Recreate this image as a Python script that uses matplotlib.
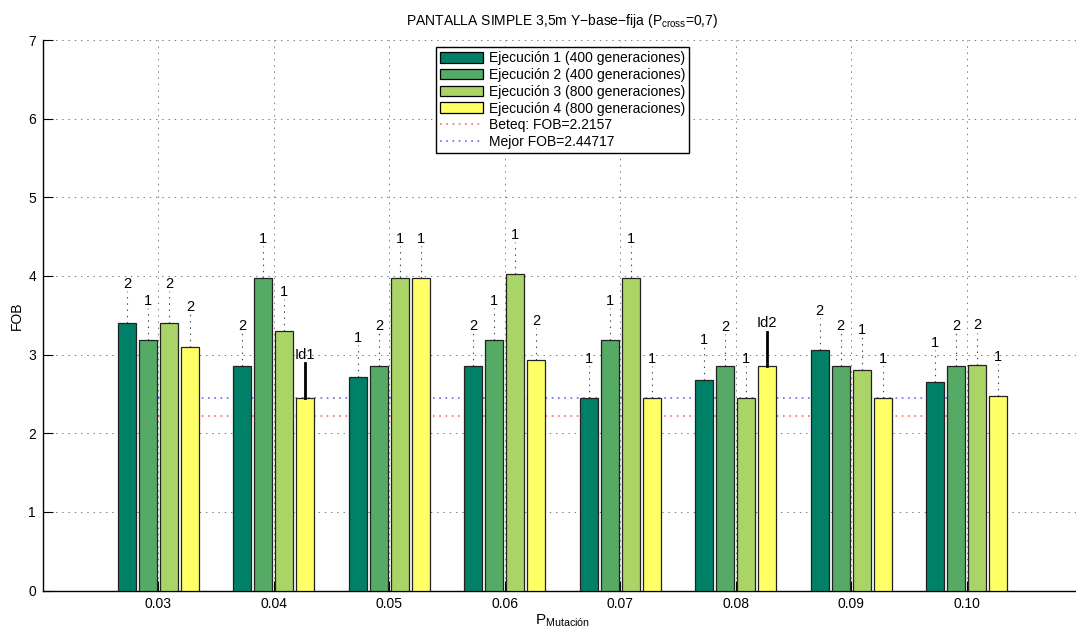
import numpy as np
import matplotlib
matplotlib.use('Agg')
import matplotlib.pyplot as plt
from matplotlib.patches import Patch
from matplotlib.lines import Line2D

plt.rcParams['font.family'] = ['Liberation Sans', 'DejaVu Sans']
plt.rcParams['mathtext.fontset'] = 'custom'
plt.rcParams['mathtext.rm'] = 'Liberation Sans'
plt.rcParams['mathtext.it'] = 'Liberation Sans:italic'
plt.rcParams['lines.scale_dashes'] = False

# data
p_mut = [0.03, 0.04, 0.05, 0.06, 0.07, 0.08, 0.09, 0.10]
tick_labels = ['0.03', '0.04', '0.05', '0.06', '0.07', '0.08', '0.09', '0.10']
run1 = [3.40, 2.86, 2.71, 2.86, 2.447, 2.68, 3.06, 2.65]
run2 = [3.18, 3.97, 2.86, 3.18, 3.18, 2.85, 2.86, 2.86]
run3 = [3.40, 3.30, 3.97, 4.02, 3.97, 2.447, 2.81, 2.87]
run4 = [3.10, 2.447, 3.97, 2.93, 2.447, 2.85, 2.447, 2.47]
lab1 = ['2', '2', '1', '2', '1', '1', '2', '1']
lab2 = ['1', '1', '2', '1', '1', '2', '2', '2']
lab3 = ['2', '1', '1', '1', '1', '1', '1', '2']
lab4 = ['2', None, '1', '2', '1', None, '1', '1']
id_group = [1, 5]      # index of group with an Id mark on run 4
id_text = ['Id1', 'Id2']
beteq = 2.2157
mejor = 2.44717
run_names = ['Ejecución 1 (400 generaciones)', 'Ejecución 2 (400 generaciones)',
             'Ejecución 3 (800 generaciones)', 'Ejecución 4 (800 generaciones)']
# matlab "summer" colormap, 4 steps
colors = [(0, 0.5, 0.4), (1/3, 2/3, 0.4), (2/3, 5/6, 0.4), (1, 1, 0.4)]

runs = [run1, run2, run3, run4]
labs = [lab1, lab2, lab3, lab4]

fig = plt.figure(figsize=(10.76, 6.34), dpi=100)
W, H = 1076, 634
ax = fig.add_axes([43/W, (H-590.5)/H, (1082-43)/W, (590.5-40)/H])

step = 0.001817
width = 0.00156
x = np.array(p_mut)
grid_ls = (0, (1, 3.5))

for i, (vals, c) in enumerate(zip(runs, colors)):
    xs = x + (i - 1.5) * step
    ax.bar(xs, vals, width=width, color=c, edgecolor='#222222', linewidth=0.9, zorder=3)
    for xx, v, t in zip(xs, vals, labs[i]):
        if t is None:
            continue
        ax.plot([xx, xx], [v, v + 0.41], color='#444444', lw=0.8, ls=grid_ls, zorder=2)
        ax.text(xx, v + 0.5, t, ha='center', va='center', fontsize=10.5)

# Id marks on run 4
for g, t in zip(id_group, id_text):
    xx = x[g] + 1.5 * step
    v = run4[g]
    ax.plot([xx, xx], [v, v + 0.44], color='black', lw=2, zorder=4)
    ax.text(xx, v + 0.55, t, ha='center', va='center', fontsize=10.5)

# reference lines
ax.plot([x[0], x[-1]], [beteq, beteq], color='red', alpha=0.6, lw=1.2, ls=(0, (1.2, 3.3)), zorder=2)
ax.plot([x[0], x[-1]], [mejor, mejor], color='blue', alpha=0.6, lw=1.2, ls=(0, (1.2, 3.3)), zorder=2)

ax.set_xlim(0.02, 0.11)
ax.set_ylim(0, 7)
ax.set_xticks(x)
ax.set_xticklabels(tick_labels)
ax.set_yticks(range(0, 8))
ax.tick_params(direction='in', length=7, width=0.8, labelsize=10, pad=5)
ax.grid(True, color='#777777', lw=0.7, ls=grid_ls, zorder=0)
ax.set_axisbelow(True)
for s in ['top', 'right']:
    ax.spines[s].set_visible(False)
for s in ['left', 'bottom']:
    ax.spines[s].set_linewidth(1.0)

ax.set_title('PANTALLA SIMPLE 3,5m Y\u2212base\u2212fija (P$_{\\mathregular{cross}}$=0,7)',
             fontsize=10, pad=11)
ax.set_ylabel('FOB', fontsize=10, labelpad=3)
ax.set_xlabel('P$_{\\mathregular{Mutación}}$', fontsize=11, labelpad=1)

handles = [Patch(facecolor=c, edgecolor='black', linewidth=0.9) for c in colors]
handles += [Line2D([], [], color='red', alpha=0.6, lw=1.2, ls=(0, (1.2, 3.3))),
            Line2D([], [], color='blue', alpha=0.6, lw=1.2, ls=(0, (1.2, 3.3)))]
names = run_names + ['Beteq: FOB=2.2157', 'Mejor FOB=2.44717']
leg = ax.legend(handles, names, loc='upper center', bbox_to_anchor=(0.5, 1 - 7/550),
                fontsize=10, fancybox=False, framealpha=1, edgecolor='black',
                handlelength=3.1, handleheight=0.8, handletextpad=0.4,
                labelspacing=0.2, borderpad=0.3, borderaxespad=0)
leg.get_frame().set_linewidth(1.0)

fig.savefig('out.png', dpi=100)
